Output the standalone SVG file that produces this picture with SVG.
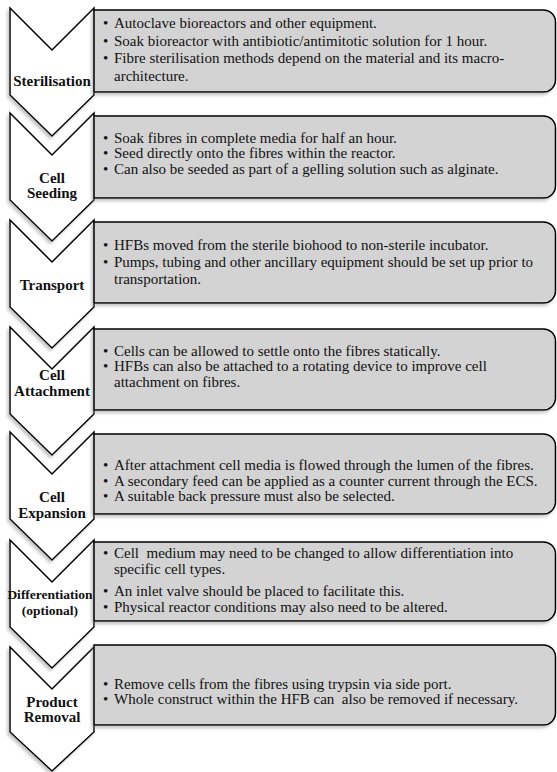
<svg xmlns="http://www.w3.org/2000/svg" width="557" height="772" viewBox="0 0 557 772">
<defs>
<style>
.chev{fill:#ffffff;stroke:#000;stroke-width:1.5;stroke-linejoin:miter;filter:url(#sh)}
.box{fill:#d3d3d3;stroke:#000;stroke-width:1.5;filter:url(#sh)}
.lbl{font-family:"Liberation Serif","Times New Roman",serif;font-weight:bold;font-size:15px;fill:#111;text-anchor:middle}
.lbls{font-family:"Liberation Serif","Times New Roman",serif;font-weight:bold;font-size:13.5px;fill:#111;text-anchor:middle}
.txt{font-family:"Liberation Serif","Times New Roman",serif;font-size:15px;fill:#111}
.pre{white-space:pre}
</style>
<filter id="sh" x="-20%" y="-20%" width="140%" height="140%">
<feDropShadow dx="-2" dy="2.5" stdDeviation="1.8" flood-color="#808080" flood-opacity="0.45"/>
</filter>
</defs>
<rect width="557" height="772" fill="#ffffff"/>

<g id="step1">
<path class="chev" d="M10,8 L52,50 L94,8 L94,95 L52,136 L10,95 Z"/>
<path class="box" d="M94,10 H543 A12,12 0 0 1 555.5,22 V80 A12,12 0 0 1 543,92 H94 Z"/>
<text class="lbl" x="52" y="86">Sterilisation</text>
<g class="txt">
<text x="103" y="28">•</text><text x="114" y="28">Autoclave bioreactors and other equipment.</text>
<text x="103" y="45.5">•</text><text x="114" y="45.5">Soak bioreactor with antibiotic/antimitotic solution for 1 hour.</text>
<text x="103" y="63">•</text><text x="114" y="63">Fibre sterilisation methods depend on the material and its macro-</text>
<text x="114" y="80.5">architecture.</text>
</g>
</g>

<g id="step2">
<path class="chev" d="M10,113 L52,155 L94,113 L94,200 L52,241 L10,200 Z"/>
<path class="box" d="M94,116 H543 A12,12 0 0 1 555.5,128 V186 A12,12 0 0 1 543,198 H94 Z"/>
<text class="lbl" x="52" y="183">Cell</text>
<text class="lbl" x="52" y="198">Seeding</text>
<g class="txt">
<text x="103" y="142.5">•</text><text x="114" y="142.5">Soak fibres in complete media for half an hour.</text>
<text x="103" y="158">•</text><text x="114" y="158">Seed directly onto the fibres within the reactor.</text>
<text x="103" y="173.5">•</text><text x="114" y="173.5">Can also be seeded as part of a gelling solution such as alginate.</text>
</g>
</g>

<g id="step3">
<path class="chev" d="M10,220 L52,262 L94,220 L94,307 L52,348 L10,307 Z"/>
<path class="box" d="M94,222 H543 A12,12 0 0 1 555.5,234 V291 A12,12 0 0 1 543,303 H94 Z"/>
<text class="lbl" x="52" y="290">Transport</text>
<g class="txt">
<text x="103" y="250">•</text><text x="114" y="250">HFBs moved from the sterile biohood to non-sterile incubator.</text>
<text x="103" y="267">•</text><text x="114" y="267">Pumps, tubing and other ancillary equipment should be set up prior to</text>
<text x="114" y="284">transportation.</text>
</g>
</g>

<g id="step4">
<path class="chev" d="M10,327 L52,369 L94,327 L94,414 L52,455 L10,414 Z"/>
<path class="box" d="M94,329 H543 A12,12 0 0 1 555.5,341 V398 A12,12 0 0 1 543,410 H94 Z"/>
<text class="lbl" x="52" y="380">Cell</text>
<text class="lbl" x="52" y="396">Attachment</text>
<g class="txt">
<text x="103" y="356">•</text><text x="114" y="356">Cells can be allowed to settle onto the fibres statically.</text>
<text x="103" y="371">•</text><text x="114" y="371">HFBs can also be attached to a rotating device to improve cell</text>
<text x="114" y="387">attachment on fibres.</text>
</g>
</g>

<g id="step5">
<path class="chev" d="M10,432 L52,474 L94,432 L94,519 L52,560 L10,519 Z"/>
<path class="box" d="M94,434 H543 A12,12 0 0 1 555.5,446 V502 A12,12 0 0 1 543,514 H94 Z"/>
<text class="lbl" x="52" y="502">Cell</text>
<text class="lbl" x="52" y="518">Expansion</text>
<g class="txt">
<text x="103" y="470">•</text><text x="114" y="470">After attachment cell media is flowed through the lumen of the fibres.</text>
<text x="103" y="486">•</text><text x="114" y="486">A secondary feed can be applied as a counter current through the ECS.</text>
<text x="103" y="501">•</text><text x="114" y="501">A suitable back pressure must also be selected.</text>
</g>
</g>

<g id="step6">
<path class="chev" d="M10,540 L52,582 L94,540 L94,627 L52,668 L10,627 Z"/>
<path class="box" d="M94,542 H543 A12,12 0 0 1 555.5,554 V609 A12,12 0 0 1 543,621 H94 Z"/>
<text class="lbls" x="50" y="599">Differentiation</text>
<text class="lbls" x="50" y="615">(optional)</text>
<g class="txt">
<text x="103" y="558">•</text><text class="pre" x="114" y="558" xml:space="preserve">Cell  medium may need to be changed to allow differentiation into</text>
<text x="114" y="574">specific cell types.</text>
<text x="103" y="596">•</text><text x="114" y="596">An inlet valve should be placed to facilitate this.</text>
<text x="103" y="612">•</text><text x="114" y="612">Physical reactor conditions may also need to be altered.</text>
</g>
</g>

<g id="step7">
<path class="chev" d="M10,647 L52,689 L94,647 L94,732 L52,771 L10,732 Z"/>
<path class="box" d="M94,645 H543 A12,12 0 0 1 555.5,657 V713 A12,12 0 0 1 543,725 H94 Z"/>
<text class="lbl" x="52" y="707">Product</text>
<text class="lbl" x="52" y="722">Removal</text>
<g class="txt">
<text x="103" y="689">•</text><text x="114" y="689">Remove cells from the fibres using trypsin via side port.</text>
<text x="103" y="704">•</text><text class="pre" x="114" y="704" xml:space="preserve">Whole construct within the HFB can  also be removed if necessary.</text>
</g>
</g>

<g id="connectors"></g>
</svg>
